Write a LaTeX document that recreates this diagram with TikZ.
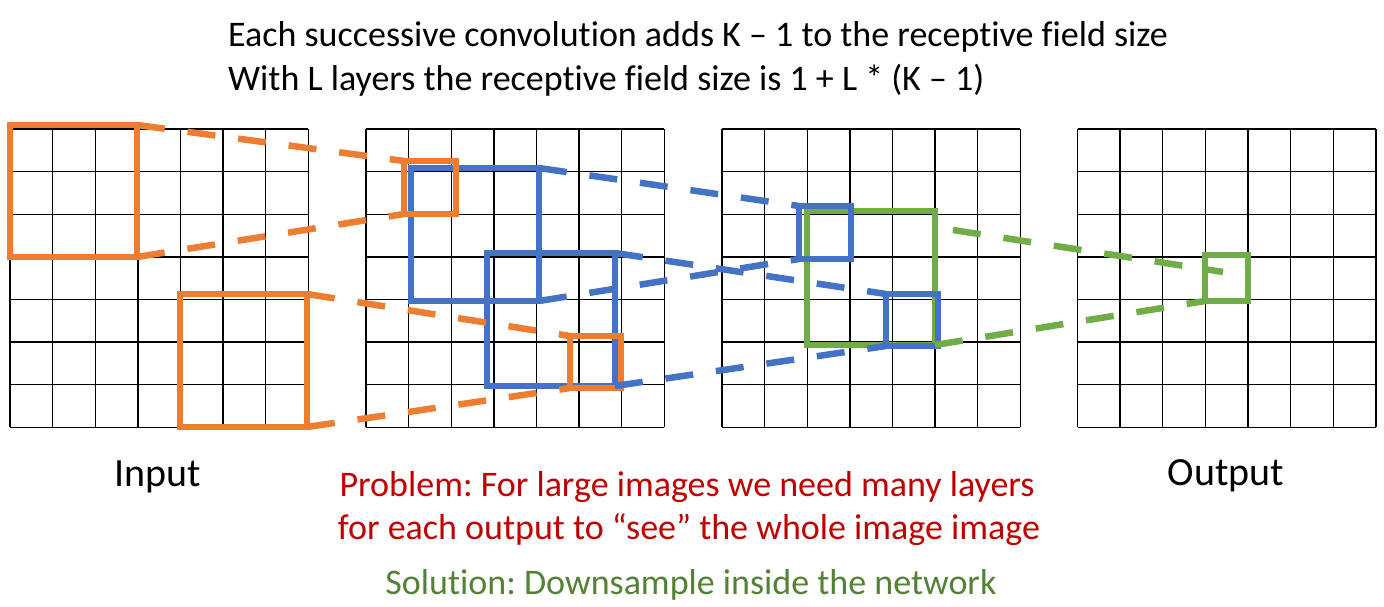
\documentclass[tikz,border=0pt]{standalone}
\usepackage{fontspec}
\setmainfont{Carlito}[Ligatures={NoCommon}]
\usetikzlibrary{calc}
\definecolor{cOrange}{HTML}{ED7D31}
\definecolor{cBlue}{HTML}{4472C4}
\definecolor{cGreen}{HTML}{70AD47}
\definecolor{cRed}{HTML}{C00000}
\definecolor{cDkGreen}{HTML}{548235}
\frenchspacing
\begin{document}
\begin{tikzpicture}[x=1pt,y=-1pt,
  rfbox/.style={draw=#1, line width=6.5pt, inner sep=0pt, outer sep=0pt, rectangle},
  rfline/.style={draw=#1, line width=6.5pt, dash pattern=on 28pt off 23pt},
  gridline/.style={draw=black, line width=1.4pt},
  bigtxt/.style={font=\fontsize{36}{43}\selectfont, inner sep=0pt},
  lbltxt/.style={font=\fontsize{40}{48}\selectfont, inner sep=0pt}]
\useasboundingbox (0,0) rectangle (1384,607);
\fill[white] (0,0) rectangle (1384,607);

% grids
\foreach \gx in {10,366,722,1077.5}{
  \foreach \i in {0,...,7}{
    \draw[gridline] (\gx+\i*42.63,129) -- (\gx+\i*42.63,427.4);
    \draw[gridline] (\gx,129+\i*42.63) -- (\gx+298.4,129+\i*42.63);
  }
}

% boxes
\node[rfbox=cOrange, minimum width=127pt, minimum height=132pt] (o1) at (73.5,191) {};
\node[rfbox=cOrange, minimum width=127pt, minimum height=133pt] (o2) at (243.5,360.5) {};
\node[rfbox=cBlue, minimum width=128pt, minimum height=133pt] (bA) at (475,234.5) {};
\node[rfbox=cBlue, minimum width=128pt, minimum height=133pt] (bB) at (551,319.5) {};
\node[rfbox=cOrange, minimum width=52pt, minimum height=53pt] (o3) at (430,187.5) {};
\node[rfbox=cOrange, minimum width=51pt, minimum height=52pt] (o4) at (595.5,362) {};
\node[rfbox=cGreen, minimum width=128pt, minimum height=134pt] (gA) at (871,278) {};
\node[rfbox=cBlue, minimum width=52pt, minimum height=53pt] (b1) at (825,232.5) {};
\node[rfbox=cBlue, minimum width=52pt, minimum height=52pt] (b2) at (912,320) {};
\node[rfbox=cGreen, minimum width=43pt, minimum height=46pt] (g1) at (1226.5,278) {};

% orange connectors
\draw[rfline=cOrange] (o1.north east) -- (o3.north west);
\draw[rfline=cOrange] (o1.south east) -- (o3.south west);
\draw[rfline=cOrange] (o2.north east) -- (o4.north west);
\draw[rfline=cOrange] (o2.south east) -- (o4.south west);
% blue connectors
\draw[rfline=cBlue] (bA.north east) -- (b1.north west);
\draw[rfline=cBlue] (bA.south east) -- (b1.south west);
\draw[rfline=cBlue] (bB.north east) -- (b2.north west);
\draw[rfline=cBlue] (bB.south east) -- (b2.south west);
% green connectors
\coordinate (gs) at (953,230);
\coordinate (ge) at (1223,272);
\draw[rfline=cGreen] (gs) -- (ge);
\draw[rfline=cGreen] (gA.south east) -- (g1.south west);

% texts
\node[bigtxt, anchor=base west] (t1) at (228,47) {Each successive convolution adds K – 1 to the receptive field size};
\node[bigtxt, anchor=base west] (t2) at (228,90.5) {With L layers the receptive field size is 1 + L * (K – 1)};
\node[lbltxt, anchor=base] (inp) at (158,486.5) {Input};
\node[lbltxt, anchor=base] (outp) at (1226,485.5) {Output};
\node[bigtxt, anchor=base, text=cRed] (p1) at (687,496) {Problem: For large images we need many layers};
\node[bigtxt, anchor=base, text=cRed] (p2) at (689,539) {for each output to “see” the whole image image};
\node[bigtxt, anchor=base, text=cDkGreen] (s1) at (691,594) {Solution: Downsample inside the network};
\end{tikzpicture}
\end{document}
